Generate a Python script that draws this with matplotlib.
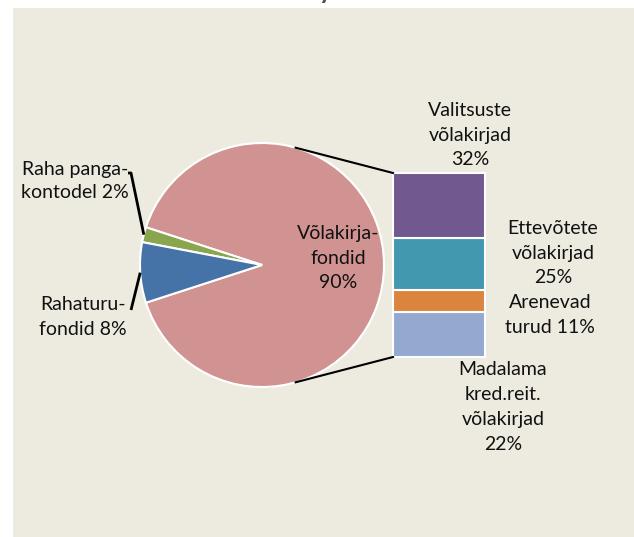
import numpy as np
import matplotlib
matplotlib.use("Agg")
import matplotlib.pyplot as plt
from matplotlib.patches import Rectangle

# ---- data ----
pie_labels = ["Võlakirja-\nfondid\n90%", "Raha panga-\nkontodel 2%", "Rahaturu-\nfondid 8%"]
pie_values = [90, 2, 8]
pie_colors = ["#D19392", "#89A54E", "#4572A7"]

bar_labels = ["Madalama\nkred.reit.\nvõlakirjad\n22%", "Arenevad\nturud 11%",
              "Ettevõtete\nvõlakirjad\n25%", "Valitsuste\nvõlakirjad\n32%"]
bar_values = [22, 11, 25, 32]
bar_colors = ["#93A9CF", "#DB843D", "#4198AF", "#71588F"]

W, H = 634, 537
plt.rcParams['font.family'] = ['Lato', 'DejaVu Sans']
fig = plt.figure(figsize=(W / 100, H / 100), dpi=100, facecolor="white")
ax = fig.add_axes([0, 0, 1, 1])
ax.patch.set_alpha(0)

def Y(py):
    return H - py

# chart-area background
ax.add_patch(Rectangle((13, 0), W - 13, H - 8, facecolor="#EDEBE0",
                       edgecolor="none", zorder=0))

# cut-off title fragment at top
fig.text(326 / W, (H + 1) / H, "y", ha="center", va="baseline", fontsize=18,
         fontweight="bold", color="#4D4D4D")

# ---- pie ----
cx, cy, r = 262, Y(265), 122
start = -pie_values[0] / 100 * 360 / 2
wedges, _ = ax.pie(pie_values, colors=pie_colors, startangle=start, counterclock=True,
                   center=(cx, cy), radius=r, frame=True,
                   wedgeprops=dict(edgecolor="white", linewidth=1.5, zorder=2))
ax.set_xlim(0, W)
ax.set_ylim(0, H)
ax.set_aspect("equal")
ax.axis("off")

fs = 14
ls = 1.57
tc = "#111111"
ax.text(338, Y(258), pie_labels[0], ha="center", va="center", fontsize=fs,
        linespacing=ls, color=tc, zorder=5)
ax.text(75, Y(181), pie_labels[1], ha="center", va="center", fontsize=fs,
        linespacing=1.45, color=tc, zorder=5)
ax.text(83, Y(317), pie_labels[2], ha="center", va="center", fontsize=fs,
        linespacing=ls, color=tc, zorder=5)

# leader lines
cum = np.cumsum([0] + pie_values)
mid = [start + (cum[i] + pie_values[i] / 2) / 100 * 360 for i in range(3)]
a1 = np.deg2rad(mid[1])
ax.plot([128, 131, cx + r * np.cos(a1)], [Y(173), Y(173), cy + r * np.sin(a1)],
        color="black", lw=2, solid_capstyle="butt", zorder=4)
a2 = np.deg2rad(mid[2])
ax.plot([131, cx + r * np.cos(a2)], [Y(310), cy + r * np.sin(a2)],
        color="black", lw=2, solid_capstyle="butt", zorder=4)

# ---- bar of pie ----
bx0, bw = 393, 92
btop, bbot = Y(173), Y(357)
scale = (btop - bbot) / sum(bar_values)
bottoms = bbot + np.concatenate([[0], np.cumsum(bar_values)[:-1]]) * scale
ax.bar([bx0 + bw / 2] * 4, np.array(bar_values) * scale, width=bw, bottom=bottoms,
       color=bar_colors, edgecolor="white", linewidth=1.5, zorder=3)

# connector lines
ang = np.deg2rad(74)
ax.plot([cx + r * np.cos(ang), bx0], [cy + r * np.sin(ang), btop], color="black", lw=1.5, zorder=4)
ax.plot([cx + r * np.cos(-ang), bx0], [cy + r * np.sin(-ang), bbot], color="black", lw=1.5, zorder=4)

bar_label_pos = [(503, 407), (550, 315), (553, 253), (470, 135)]
for lab, (px, py) in zip(bar_labels, bar_label_pos):
    ax.text(px, Y(py), lab, ha="center", va="center", fontsize=fs, linespacing=ls,
            color=tc, zorder=5)

fig.savefig("out.png", dpi=100, facecolor="white")
